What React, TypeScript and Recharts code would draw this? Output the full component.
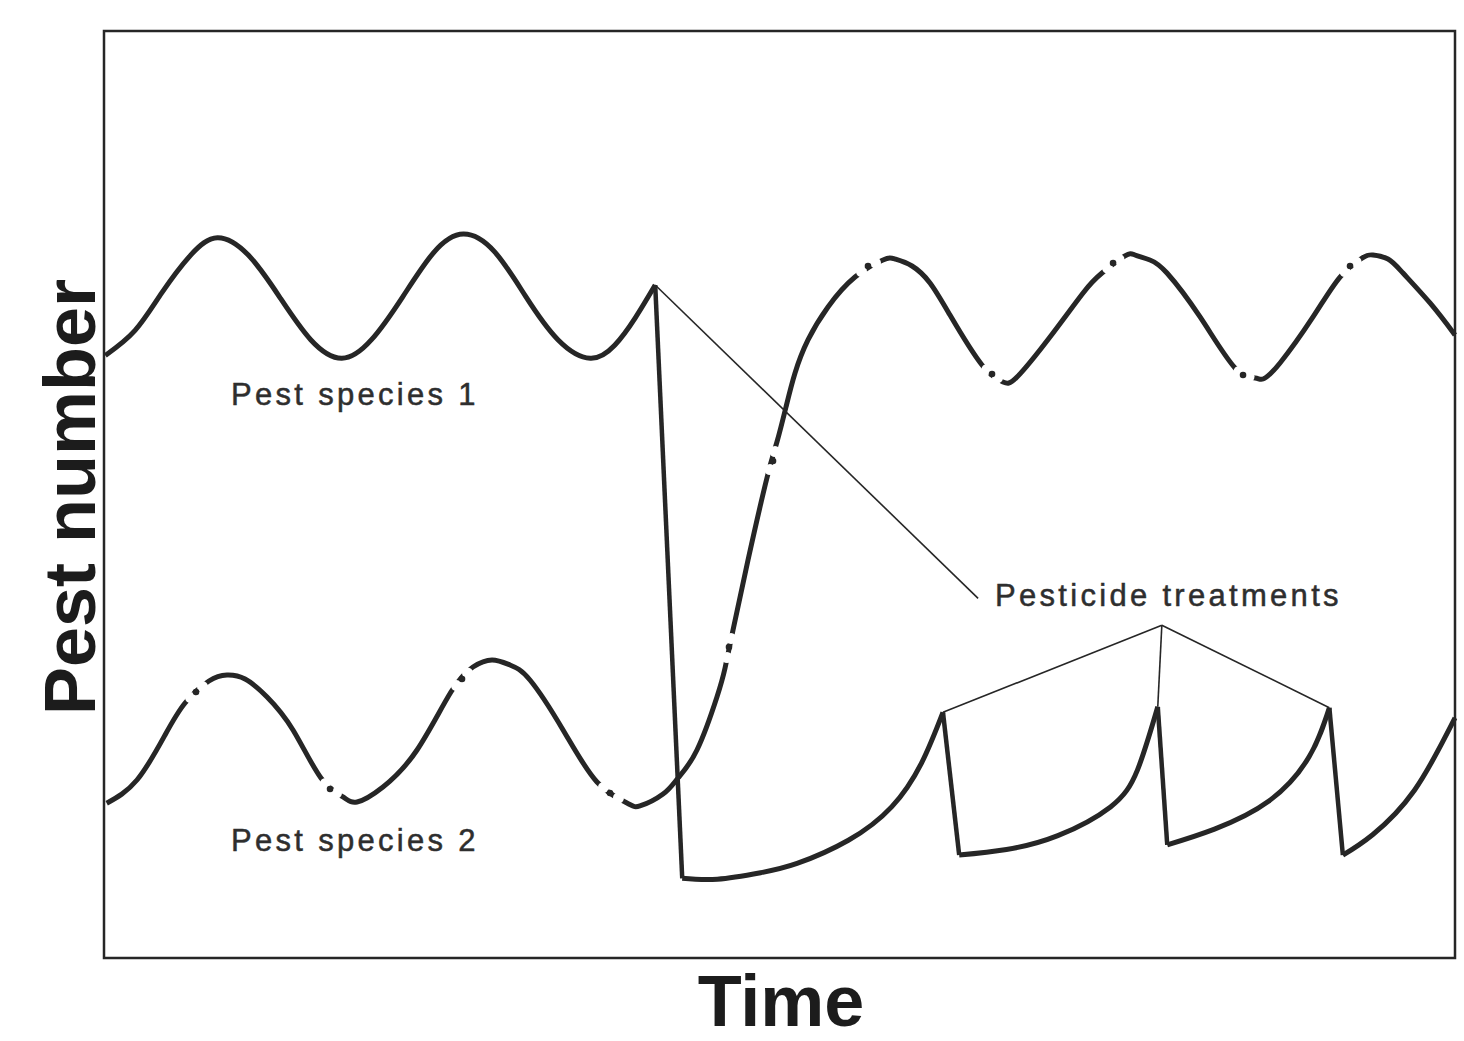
import { LineChart, Line, XAxis, YAxis, ReferenceArea, ReferenceLine } from "recharts";

// time runs 0..100 across the box, pest number 0..100 up the box
const species2 = [
  { t: 0.2, n: 16.7 }, { t: 2.44, n: 19.2 }, { t: 4.52, n: 24.06 }, { t: 6.0, n: 27.51 },
  { t: 7.77, n: 29.88 }, { t: 9.1, n: 30.53 }, { t: 10.44, n: 30.1 }, { t: 12.07, n: 28.16 },
  { t: 13.99, n: 24.6 }, { t: 16.06, n: 19.42 },
  { t: 17.69, n: 17.37 }, { t: 18.73, n: 16.83 }, { t: 20.65, n: 18.45 }, { t: 23.17, n: 22.44 },
  { t: 25.68, n: 28.69 },
  { t: 27.31, n: 31.39 }, { t: 28.72, n: 32.15 }, { t: 30.05, n: 31.61 }, { t: 31.53, n: 29.99 },
  { t: 33.98, n: 24.6 }, { t: 36.49, n: 18.99 },
  { t: 38.71, n: 16.72 }, { t: 39.67, n: 16.4 }, { t: 41.38, n: 17.69 }, { t: 42.49, n: 19.42 },
  { t: 43.89, n: 22.44 }, { t: 45.37, n: 28.16 }, { t: 45.97, n: 31.28 },
  { t: 46.56, n: 35.38 }, { t: 47.67, n: 42.93 }, { t: 49.07, n: 51.78 },
  { t: 49.81, n: 55.66 }, { t: 50.48, n: 59.44 }, { t: 51.15, n: 63.11 }, { t: 52.11, n: 66.67 },
  { t: 53.59, n: 70.23 }, { t: 55.59, n: 73.46 },
  { t: 57.66, n: 75.3 }, { t: 58.55, n: 75.4 }, { t: 59.81, n: 74.65 }, { t: 61.14, n: 72.82 },
  { t: 62.62, n: 69.36 }, { t: 64.99, n: 63.97 },
  { t: 66.54, n: 62.14 }, { t: 67.58, n: 62.67 }, { t: 70.02, n: 66.99 }, { t: 72.47, n: 71.74 },
  { t: 73.87, n: 73.89 },
  { t: 75.57, n: 75.73 }, { t: 76.31, n: 75.84 }, { t: 77.42, n: 75.3 }, { t: 78.68, n: 73.89 },
  { t: 81.13, n: 69.15 }, { t: 83.72, n: 63.65 },
  { t: 85.2, n: 62.57 }, { t: 85.79, n: 62.46 }, { t: 87.05, n: 64.19 }, { t: 89.49, n: 69.15 },
  { t: 91.49, n: 73.46 },
  { t: 93.12, n: 75.51 }, { t: 93.93, n: 75.84 }, { t: 95.04, n: 75.4 }, { t: 96.15, n: 73.89 },
  { t: 98.15, n: 70.66 }, { t: 100, n: 67.21 },
];

// species 2 is printed dash-dot: one dot sits in each break of the line
const species2Dots = [
  { t: 6.81, n: 28.69 }, { t: 16.73, n: 18.23 }, { t: 26.5, n: 30.1 }, { t: 37.45, n: 17.8 },
  { t: 46.26, n: 33.55 }, { t: 49.52, n: 53.61 }, { t: 56.55, n: 74.65 }, { t: 65.73, n: 63.0 },
  { t: 74.69, n: 74.97 }, { t: 84.31, n: 62.89 }, { t: 92.23, n: 74.65 },
];

// species 1 before the first spray
const species1Wave = [
  { t: 0.1, n: 65.0 }, { t: 2.3, n: 67.7 }, { t: 4.3, n: 71.8 }, { t: 6.4, n: 75.8 },
  { t: 8.4, n: 77.7 }, { t: 10.7, n: 75.8 }, { t: 13.0, n: 71.3 }, { t: 15.3, n: 66.7 },
  { t: 17.6, n: 64.7 }, { t: 19.8, n: 66.7 }, { t: 22.1, n: 71.3 }, { t: 24.4, n: 76.1 },
  { t: 26.6, n: 78.1 }, { t: 28.9, n: 76.2 }, { t: 31.2, n: 71.4 }, { t: 33.6, n: 66.7 },
  { t: 36.0, n: 64.7 }, { t: 37.8, n: 66.1 }, { t: 39.3, n: 69.0 }, { t: 40.8, n: 72.6 },
];

// species 1 regrowth after each spray
const recovery1 = [
  { t: 42.8, n: 8.6 }, { t: 45.4, n: 8.5 }, { t: 48.6, n: 9.2 }, { t: 51.3, n: 10.2 },
  { t: 55.1, n: 12.7 }, { t: 58.3, n: 16.3 }, { t: 60.5, n: 21.0 }, { t: 62.1, n: 26.5 },
];
const recovery2 = [
  { t: 63.3, n: 11.1 }, { t: 66.8, n: 11.7 }, { t: 70.6, n: 13.2 }, { t: 74.5, n: 16.3 },
  { t: 76.5, n: 20.3 }, { t: 78.0, n: 27.1 },
];
const recovery3 = [
  { t: 78.7, n: 12.2 }, { t: 82.2, n: 13.9 }, { t: 86.2, n: 16.9 }, { t: 89.2, n: 21.7 },
  { t: 90.7, n: 27.0 },
];
const recovery4 = [
  { t: 91.7, n: 11.1 }, { t: 93.9, n: 13.3 }, { t: 97.0, n: 18.1 }, { t: 100, n: 25.9 },
];

const labelTip = { x: 64.7, y: 38.8 };
const hub = { x: 78.3, y: 35.9 };

const ink = "#262626";
const labelFont = "'Liberation Sans', Arial, sans-serif";

export default function App() {
  const pieces = [species1Wave, recovery1, recovery2, recovery3, recovery4];
  const drops = pieces.slice(1).map((p, i) => {
    const prev = pieces[i];
    return [prev[prev.length - 1], p[0]];
  });
  const sprayPeaks = [recovery1, recovery2, recovery3].map((p) => p[p.length - 1]);
  const firstPeak = species1Wave[species1Wave.length - 1];

  // white-out either side of each dot so the curve reads — · —
  const blanks: { t: number; n: number }[] = [];
  species2Dots.forEach((d) => {
    const before = species2.filter((p) => p.t < d.t).pop()!;
    const after = species2.find((p) => p.t > d.t)!;
    blanks.push({ t: (before.t + d.t) / 2, n: (before.n + d.n) / 2 });
    blanks.push({ t: (after.t + d.t) / 2, n: (after.n + d.n) / 2 });
  });

  return (
    <div style={{ position: "absolute", left: 0, top: 0, width: 1464, height: 1041, background: "#fff" }}>
      <LineChart width={1464} height={1041} margin={{ top: 31, right: 9, bottom: 83, left: 104 }}>
        <XAxis type="number" dataKey="t" domain={[0, 100]} hide />
        <YAxis type="number" domain={[0, 100]} hide />
        <ReferenceArea x1={0} x2={100} y1={0} y2={100} fill="none" stroke={ink} strokeWidth={2.5} />

        <Line data={species2} dataKey="n" type="natural" stroke={ink} strokeWidth={5} dot={false} activeDot={false} isAnimationActive={false} />
        <Line data={blanks} dataKey="n" stroke="none" dot={{ r: 5.5, fill: "#fff", stroke: "none" }} activeDot={false} isAnimationActive={false} />
        <Line data={species2Dots} dataKey="n" stroke="none" dot={{ r: 3.3, fill: ink, stroke: "none" }} activeDot={false} isAnimationActive={false} />
        {pieces.map((p, i) => (
          <Line key={`s1-${i}`} data={p} dataKey="n" type="natural" stroke={ink} strokeWidth={5} dot={false} activeDot={false} isAnimationActive={false} />
        ))}
        {drops.map((d, i) => (
          <Line key={`drop-${i}`} data={d} dataKey="n" type="linear" stroke={ink} strokeWidth={4.5} dot={false} activeDot={false} isAnimationActive={false} />
        ))}

        <ReferenceLine segment={[{ x: firstPeak.t, y: firstPeak.n }, labelTip]} stroke={ink} strokeWidth={1.6} />
        {sprayPeaks.map((p, i) => (
          <ReferenceLine key={`ptr-${i}`} segment={[hub, { x: p.t, y: p.n }]} stroke={ink} strokeWidth={1.6} />
        ))}
      </LineChart>

      <svg width={1464} height={1041} style={{ position: "absolute", left: 0, top: 0, pointerEvents: "none" }}>
        <g fontFamily={labelFont} fontSize={31} fill="#2e2e2e" stroke="#2e2e2e" strokeWidth={0.5} letterSpacing={3.3}>
          <text x={231} y={405}>Pest species 1</text>
          <text x={231} y={851}>Pest species 2</text>
          <text x={995} y={606}>Pesticide treatments</text>
        </g>
        <g fontFamily={labelFont} fontSize={72} fontWeight="bold" fill="#1c1c1c">
          <text x={781} y={1026} textAnchor="middle">Time</text>
          <text x={95} y={497} textAnchor="middle" transform="rotate(-90 95 497)">Pest number</text>
        </g>
      </svg>
    </div>
  );
}
